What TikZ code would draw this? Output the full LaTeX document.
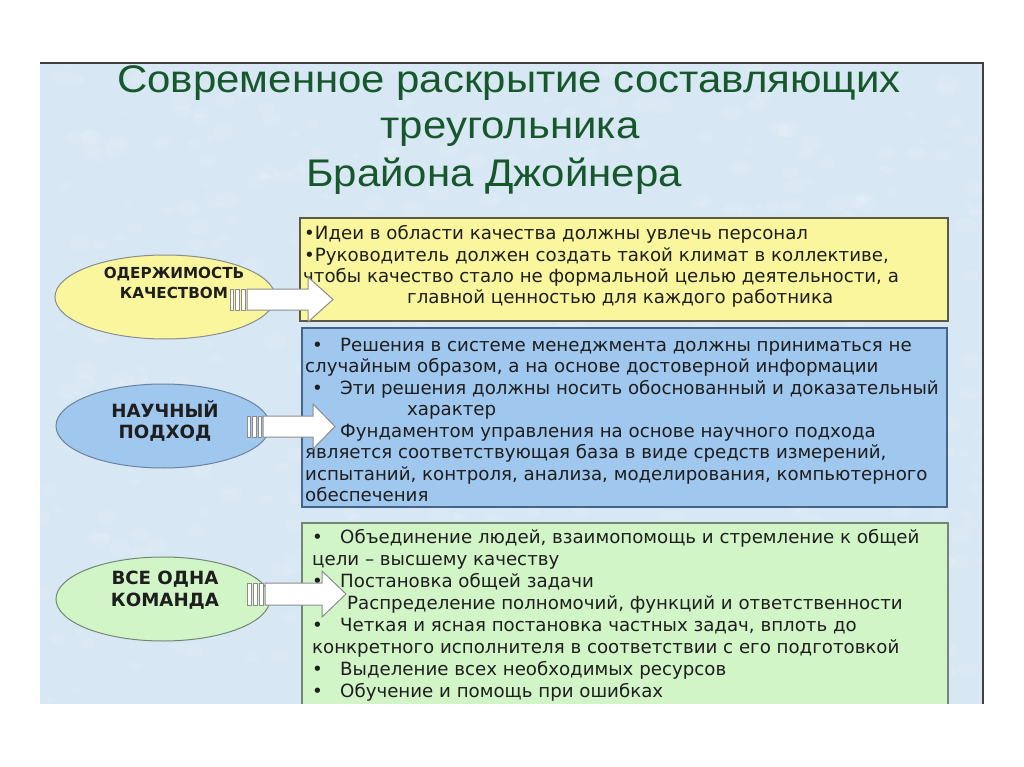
\documentclass[tikz,border=0pt]{standalone}
\usepackage{fontspec}
\setmainfont{DejaVu Sans}
\newfontfamily\titlefont{Liberation Sans}
\newfontfamily\bodyfont{DejaVu Sans}
\definecolor{slidebg}{RGB}{216,231,244}
\definecolor{titlegreen}{RGB}{22,88,44}
\definecolor{txt}{RGB}{30,30,30}
\definecolor{yfill}{RGB}{250,246,158}
\definecolor{bfill}{RGB}{160,199,238}
\definecolor{gfill}{RGB}{210,245,200}
\definecolor{yline}{RGB}{90,90,70}
\definecolor{bline}{RGB}{70,100,135}
\definecolor{gline}{RGB}{115,135,115}
\definecolor{arrline}{RGB}{140,140,140}
\begin{document}
\begin{tikzpicture}[x=1pt,y=-1pt,
  bodyline/.style={anchor=base west,inner sep=0pt,text=txt,font=\bodyfont\fontsize{18.2}{21}\selectfont},
  titleline/.style={anchor=base,inner sep=0pt,text=titlegreen,font=\titlefont\fontsize{38.5}{46}\selectfont},
  ovaltext/.style={inner sep=0pt,text=txt,align=center,font=\bodyfont\bfseries\fontsize{18.2}{21.5}\selectfont},
  arr/.style={draw=arrline,fill=white,line width=1pt,line join=miter},
  boxstyle/.style={line width=1.3pt}
]
\useasboundingbox (0,0) rectangle (1024,767);
\fill[white] (0,0) rectangle (1024,767);
% slide
\fill[slidebg] (40,63) rectangle (983,704);
\begin{scope}
\clip (40,63) rectangle (983,704);
\pgfmathsetseed{12345}
\foreach \i in {1,...,600}{
  \pgfmathsetmacro{\px}{40+943*rnd}
  \pgfmathsetmacro{\py}{63+641*rnd}
  \pgfmathsetmacro{\pr}{3+9*rnd}
  \fill[white,opacity=0.10] (\px,\py) ellipse [x radius=\pr, y radius=0.7*\pr];
}
\end{scope}
\draw[black!75,line width=1.2pt] (40,63) -- (983,63) -- (983,704);
% title
\node[titleline] (t1) at (509,93) {\scalebox{1.09}[1]{Современное раскрытие составляющих}};
\node[titleline] (t2) at (510,139) {\scalebox{1.09}[1]{треугольника}};
\node[titleline] (t3) at (494,187) {\scalebox{1.09}[1]{Брайона Джойнера}};
% boxes
\draw[boxstyle,draw=yline,fill=yfill] (300,218) rectangle (948,321);
\coordinate (bx1) at (300,270);
\draw[boxstyle,draw=bline,fill=bfill] (302,328) rectangle (947,507);
\coordinate (bx2) at (302,417);
\fill[gfill] (302,523) rectangle (948,704);
\draw[boxstyle,draw=gline] (302,704) -- (302,523) -- (948,523) -- (948,704);
\coordinate (bx3) at (302,610);
% ellipses
\draw[line width=1pt,draw=black!45,fill=yfill] (165,297) ellipse [x radius=110,y radius=42];
\node[ovaltext,font=\bodyfont\bfseries\fontsize{15.2}{20}\selectfont] (e1) at (174,283) {ОДЕРЖИМОСТЬ\\КАЧЕСТВОМ};
\draw[line width=1pt,draw=bline!80,fill=bfill] (163,426) ellipse [x radius=107,y radius=42];
\node[ovaltext] (e2) at (165,421) {НАУЧНЫЙ\\ПОДХОД};
\draw[line width=1pt,draw=gline,fill=gfill] (163,599) ellipse [x radius=107,y radius=42];
\node[ovaltext] (e3) at (165,590) {ВСЕ ОДНА\\КОМАНДА};
% yellow text
\node[bodyline] (y1) at (304,240) {•Идеи в области качества должны увлечь персонал};
\node[bodyline] (y2) at (304,261) {•Руководитель должен создать такой климат в коллективе,};
\node[bodyline] (y3) at (303,282) {чтобы качество стало не формальной целью деятельности, а};
\node[bodyline] (y4) at (407,303) {главной ценностью для каждого работника};
% blue text
\node[bodyline] (b1) at (312,351) {\makebox[28pt][l]{•}Решения в системе менеджмента должны приниматься не};
\node[bodyline] (b2) at (305,372.5) {случайным образом, а на основе достоверной информации};
\node[bodyline] (b3) at (312,394) {\makebox[28pt][l]{•}Эти решения должны носить обоснованный и доказательный};
\node[bodyline] (b4) at (407,415.5) {характер};
\node[bodyline] (b5) at (312,437) {\makebox[28pt][l]{•}Фундаментом управления на основе научного подхода};
\node[bodyline] (b6) at (305,458.5) {является соответствующая база в виде средств измерений,};
\node[bodyline] (b7) at (305,480) {испытаний, контроля, анализа, моделирования, компьютерного};
\node[bodyline] (b8) at (305,501.5) {обеспечения};
% green text
\node[bodyline] (g1) at (312,543) {\makebox[28pt][l]{•}Объединение людей, взаимопомощь и стремление к общей};
\node[bodyline] (g2) at (312,565) {цели – высшему качеству};
\node[bodyline] (g3) at (312,587) {\makebox[28pt][l]{•}Постановка общей задачи};
\node[bodyline] (g4) at (312,609) {\makebox[35pt][l]{•}Распределение полномочий, функций и ответственности};
\node[bodyline] (g5) at (312,631) {\makebox[28pt][l]{•}Четкая и ясная постановка частных задач, вплоть до};
\node[bodyline] (g6) at (312,653) {конкретного исполнителя в соответствии с его подготовкой};
\node[bodyline] (g7) at (312,675) {\makebox[28pt][l]{•}Выделение всех необходимых ресурсов};
\node[bodyline] (g8) at (312,697) {\makebox[28pt][l]{•}Обучение и помощь при ошибках};
% arrows (yellow)
\draw[arr] (230,289) rectangle (233.5,310);
\draw[arr] (235.5,289) rectangle (239,310);
\draw[arr] (241,289) rectangle (245,310);
\draw[arr] (247,289) -- (308,289) -- (308,277) -- (333,299.5) -- (308,322) -- (308,310) -- (247,310) -- cycle;
% arrows (blue)
\draw[arr] (247,416) rectangle (250.5,437);
\draw[arr] (252.5,416) rectangle (256,437);
\draw[arr] (258,416) rectangle (261.5,437);
\draw[arr] (263,416) -- (313,416) -- (313,404) -- (335,426.5) -- (313,449) -- (313,437) -- (263,437) -- cycle;
% arrows (green)
\draw[arr] (247,583) rectangle (251,605);
\draw[arr] (253,583) rectangle (257,605);
\draw[arr] (259,583) rectangle (263,605);
\draw[arr] (265,583) -- (322,583) -- (322,571) -- (346,594) -- (322,617) -- (322,605) -- (265,605) -- cycle;
\end{tikzpicture}
\end{document}
